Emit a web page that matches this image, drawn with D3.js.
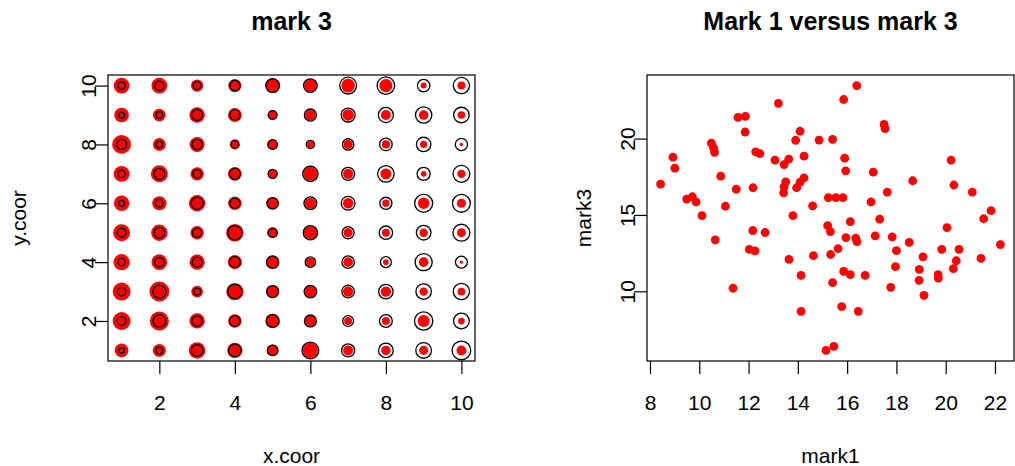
<!DOCTYPE html>
<html>
<head>
<meta charset="utf-8">
<script src="https://cdn.jsdelivr.net/npm/d3@7"></script>
<style>
  body { margin: 0; background: #fff; }
  svg { display: block; }
  text { font-family: "Liberation Sans", Arial, Helvetica, sans-serif; fill: #000; }
</style>
</head>
<body>
<svg id="chart" width="1015" height="466"></svg>
<script>
// Grid coordinates of the 10 x 10 marked point pattern
const xCoor = [1, 2, 3, 4, 5, 6, 7, 8, 9, 10];
const yCoor = [1, 2, 3, 4, 5, 6, 7, 8, 9, 10];

// Marks, one value per grid cell; row by row (y.coor = 1 first), x.coor varying fastest
const mark1 = [
   8.43,  9.72, 14.86, 15.90, 13.80, 20.22, 16.40, 18.00, 19.08, 22.22,
  11.87, 15.86, 13.63, 13.95, 15.94, 15.21, 14.13, 16.13, 21.84, 19.12,
  11.57, 16.39, 10.11, 17.54, 15.24, 15.83, 15.95, 17.83, 18.93, 19.70,
  10.49, 12.46, 13.07, 14.25, 15.54, 13.64, 15.63, 14.13, 20.54, 15.14,
  11.86, 13.91, 12.18, 17.50, 12.17, 17.63, 15.33, 16.73, 17.96, 20.43,
   8.93, 10.87, 15.41, 13.44, 14.60, 16.13, 17.14, 15.41, 21.54, 21.43,
  10.58, 14.09, 11.50, 14.09, 12.26, 18.66, 16.35, 20.05, 16.45, 20.31,
  13.21,  9.49, 13.44, 10.65, 12.67, 11.37, 14.63, 15.86, 17.77, 15.46,
   9.01,  9.87, 14.25, 13.51, 12.03, 15.32, 17.32, 18.52, 19.84, 18.92,
  10.62, 12.29, 11.06, 13.42, 17.06, 16.97, 20.33, 21.08, 15.78, 19.69
];
const mark3 = [
  17.02, 16.19, 19.90, 18.72, 14.95, 18.59, 13.26, 12.67, 12.26, 13.06,
  21.45, 22.56, 18.65, 16.78, 17.89, 14.30, 11.04, 11.09, 15.28,  9.74,
  21.39, 23.47, 14.95, 20.65, 16.13, 16.13, 13.52, 13.57, 11.43, 10.87,
  19.70, 19.02, 18.59, 17.43, 16.13, 12.09, 12.80,  8.68, 12.74,  6.13,
  20.43, 19.89, 16.78, 20.93, 13.98, 16.50, 12.41, 11.04, 11.61, 12.00,
  18.78, 17.54, 19.95, 16.84, 15.59, 14.56, 13.63, 10.57, 14.75, 12.15,
  19.40, 20.48, 16.69, 17.15, 12.65, 17.24, 13.48, 14.17,  8.68, 11.48,
  22.30, 16.04, 18.30, 13.37, 13.85, 10.20, 12.33, 11.30, 10.26,  6.40,
  18.06, 15.85, 18.85, 17.17, 12.74, 13.91, 14.72, 13.20, 12.74, 10.72,
  19.10, 19.13, 15.57, 16.45, 17.80, 15.85, 16.96, 16.50,  9.00, 11.09
];

// Tick values
const gridTicks = [2, 4, 6, 8, 10];
const mark1Ticks = [8, 10, 12, 14, 16, 18, 20, 22];
const mark3Ticks = [10, 15, 20];

// One record per cell
const cells = [];
yCoor.forEach((y, j) => {
  xCoor.forEach((x, i) => {
    const k = j * xCoor.length + i;
    cells.push({ x: x, y: y, m1: mark1[k], m3: mark3[k] });
  });
});

const svg = d3.select("#chart");

// Axis ranges extended by 4% on each side
function padded(ext) {
  const r = ext[1] - ext[0];
  return [ext[0] - 0.04 * r, ext[1] + 0.04 * r];
}

const plotTop = 75, plotBottom = 361;
const leftX0 = 108, leftX1 = 475;
const rightX0 = 647, rightX1 = 1014;
const tickLen = 13;
const labelFont = 21;

function frame(x0, x1) {
  svg.append("rect")
    .attr("x", x0).attr("y", plotTop)
    .attr("width", x1 - x0).attr("height", plotBottom - plotTop)
    .attr("fill", "none").attr("stroke", "#000").attr("stroke-width", 1.2);
}

function bottomAxis(scale, ticks) {
  const g = svg.append("g")
    .attr("transform", `translate(0,${plotBottom})`)
    .call(d3.axisBottom(scale).tickValues(ticks).tickSize(tickLen).tickPadding(21).tickFormat(d3.format("d")));
  g.select(".domain").remove();
  g.selectAll("line").attr("stroke", "#000").attr("stroke-width", 1.2);
  g.selectAll("text").attr("font-size", labelFont).attr("fill", "#000")
    .style("font-family", "'Liberation Sans', Arial, sans-serif");
}

function leftAxis(scale, ticks, x0) {
  const g = svg.append("g")
    .attr("transform", `translate(${x0},0)`)
    .call(d3.axisLeft(scale).tickValues(ticks).tickSize(tickLen).tickFormat(d3.format("d")));
  g.select(".domain").remove();
  g.selectAll("line").attr("stroke", "#000").attr("stroke-width", 1.2);
  g.selectAll("text")
    .attr("font-size", labelFont).attr("fill", "#000")
    .style("font-family", "'Liberation Sans', Arial, sans-serif")
    .attr("transform", "rotate(-90)")
    .attr("x", 0).attr("y", -12.5).attr("dy", 0)
    .attr("text-anchor", "middle");
}

function title(text, cx) {
  svg.append("text")
    .attr("x", cx).attr("y", 30)
    .attr("text-anchor", "middle")
    .attr("font-size", 25).attr("font-weight", "bold")
    .text(text);
}

function xLabel(text, cx) {
  svg.append("text")
    .attr("x", cx).attr("y", 463)
    .attr("text-anchor", "middle")
    .attr("font-size", labelFont)
    .text(text);
}

function yLabel(text, bx) {
  svg.append("text")
    .attr("transform", `translate(${bx},${(plotTop + plotBottom) / 2}) rotate(-90)`)
    .attr("text-anchor", "middle")
    .attr("font-size", labelFont)
    .text(text);
}

// ---- Left panel: mark 3 (filled red) with mark 1 (open black) on the grid ----
const gx = d3.scaleLinear().domain(padded(d3.extent(xCoor))).range([leftX0, leftX1]);
const gy = d3.scaleLinear().domain(padded(d3.extent(yCoor))).range([plotBottom, plotTop]);
const rad = d3.scaleLinear().domain([2.8, 23.6]).range([0, 10]);

svg.append("g").selectAll("circle")
  .data(cells).join("circle")
  .attr("cx", d => gx(d.x)).attr("cy", d => gy(d.y))
  .attr("r", d => rad(d.m3))
  .attr("fill", "#ff0000");

svg.append("g").selectAll("circle")
  .data(cells).join("circle")
  .attr("cx", d => gx(d.x)).attr("cy", d => gy(d.y))
  .attr("r", d => rad(d.m1))
  .attr("fill", "none").attr("stroke", "#000").attr("stroke-width", 1.3);

frame(leftX0, leftX1);
bottomAxis(gx, gridTicks);
leftAxis(gy, gridTicks, leftX0);
title("mark 3", (leftX0 + leftX1) / 2);
xLabel("x.coor", (leftX0 + leftX1) / 2);
yLabel("y.coor", 26);

// ---- Right panel: mark1 versus mark3 scatter ----
const sx = d3.scaleLinear().domain(padded(d3.extent(mark1))).range([rightX0, rightX1]);
const sy = d3.scaleLinear().domain(padded(d3.extent(mark3))).range([plotBottom, plotTop]);

svg.append("g").selectAll("circle")
  .data(cells).join("circle")
  .attr("cx", d => sx(d.m1)).attr("cy", d => sy(d.m3))
  .attr("r", 4.4)
  .attr("fill", "#ff0000");

frame(rightX0, rightX1);
bottomAxis(sx, mark1Ticks);
leftAxis(sy, mark3Ticks, rightX0);
title("Mark 1 versus mark 3", (rightX0 + rightX1) / 2);
xLabel("mark1", (rightX0 + rightX1) / 2);
yLabel("mark3", 591);
</script>
</body>
</html>
